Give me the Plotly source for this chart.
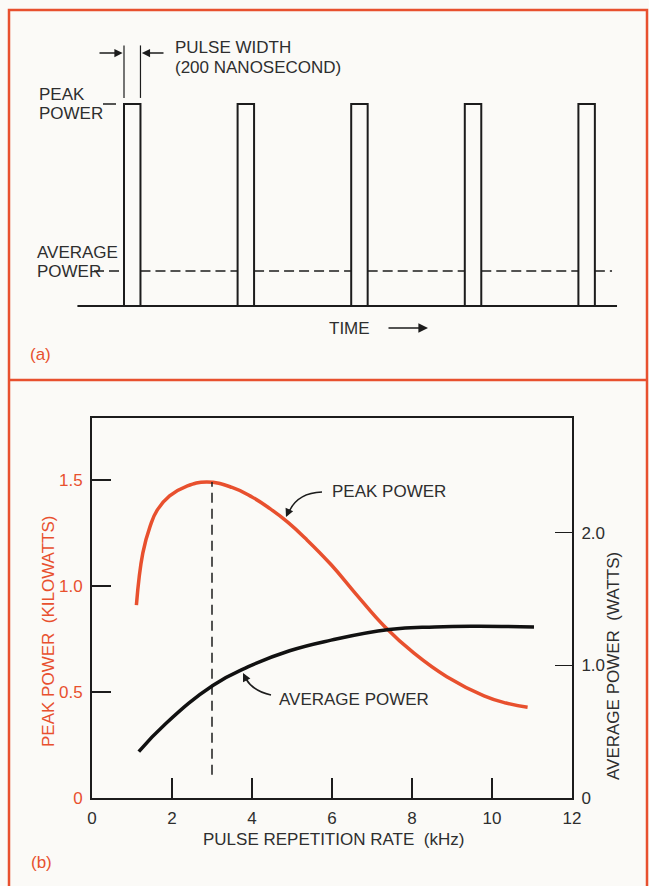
import plotly.graph_objects as go

# ---------------- data ----------------
# panel (a): schematic pulse train (time in pulse periods, power in units of peak)
pulse_times = [0, 1, 2, 3, 4]
pulse_width = 0.145
peak_level = 1.0
avg_level = 0.173
baseline_span = [-0.41, 4.34]
avg_line_span = [-0.264, 4.296]

# panel (b): peak power (kW, left axis) and average power (W, right axis) vs rate (kHz)
rate_peak = [1.11, 1.27, 1.45, 1.63, 1.94, 2.36, 2.87, 3.5, 4.0, 4.45, 4.9, 5.36, 5.98,
             6.6, 7.32, 8.05, 8.87, 9.8, 10.35, 10.89]
peak_kw = [0.91, 1.155, 1.28, 1.358, 1.425, 1.47, 1.49, 1.465, 1.42, 1.365, 1.3, 1.22,
           1.10, 0.962, 0.808, 0.683, 0.572, 0.482, 0.448, 0.428]
rate_avg = [1.17, 1.84, 3.03, 3.91, 4.94, 5.98, 7.43, 8.57, 9.6, 11.05]
avg_w = [0.35, 0.56, 0.85, 0.99, 1.11, 1.19, 1.27, 1.29, 1.295, 1.29]
optimum_rate = 3.0
optimum_span_kw = [0.11, 1.49]

x_ticks = [0, 2, 4, 6, 8, 10, 12]
left_ticks = [0, 0.5, 1.0, 1.5]
left_ticktext = ["0", "0.5", "1.0", "1.5"]
right_ticks = [0, 1, 2]
right_ticktext = ["0", "1.0", "2.0"]

# ---------------- layout helpers ----------------
W, H = 649, 886
def px(x): return x / W
def py(y): return 1 - y / H

RED = "#e8502e"
INK = "#1c1c1c"
TXT = "#2e2e2e"
BG = "#fbfaf7"
FONT = "Liberation Sans, Arial, sans-serif"
FS = 17

fig = go.Figure()

# ---- panel (a) traces ----
fig.add_trace(go.Scatter(x=list(baseline_span), y=[0, 0], mode="lines",
                         line=dict(color=INK, width=2), xaxis="x2", yaxis="y3"))
px_, py_ = [], []
for t in pulse_times:
    px_ += [t, t, t + pulse_width, t + pulse_width, None]
    py_ += [0, peak_level, peak_level, 0, None]
fig.add_trace(go.Scatter(x=px_, y=py_, mode="lines", line=dict(color=INK, width=2),
                         xaxis="x2", yaxis="y3"))
ax_, ay_ = [], []
edges = [avg_line_span[0]]
for t in pulse_times:
    edges += [t, t + pulse_width]
edges.append(avg_line_span[1])
for i in range(0, len(edges), 2):
    ax_ += [edges[i], edges[i + 1], None]
    ay_ += [avg_level, avg_level, None]
fig.add_trace(go.Scatter(x=ax_, y=ay_, mode="lines",
                         line=dict(color=INK, width=1.6, dash="10px,5px"),
                         xaxis="x2", yaxis="y3"))
# pulse width markers
fig.add_trace(go.Scatter(x=[pulse_times[0], pulse_times[0], None,
                            pulse_times[0] + pulse_width, pulse_times[0] + pulse_width],
                         y=[1.03, 1.29, None, 1.03, 1.29], mode="lines",
                         line=dict(color=INK, width=1.2), xaxis="x2", yaxis="y3"))

# ---- panel (b) traces ----
fig.add_trace(go.Scatter(x=rate_peak, y=peak_kw, mode="lines",
                         line=dict(color=RED, width=3.5, shape="spline", smoothing=1.3),
                         xaxis="x", yaxis="y"))
fig.add_trace(go.Scatter(x=rate_avg, y=avg_w, mode="lines",
                         line=dict(color="#111111", width=3.5, shape="spline", smoothing=1.3),
                         xaxis="x", yaxis="y2"))
fig.add_trace(go.Scatter(x=[optimum_rate, optimum_rate], y=optimum_span_kw, mode="lines",
                         line=dict(color=INK, width=1.5, dash="10px,6px"),
                         xaxis="x", yaxis="y"))

# ---- axes ----
axis_common = dict(showgrid=False, zeroline=False, fixedrange=True, automargin=False)
fig.update_layout(
    template="none",
    width=W, height=H, autosize=False, showlegend=False,
    margin=dict(l=0, r=0, t=0, b=0, pad=0, autoexpand=False),
    paper_bgcolor=BG, plot_bgcolor=BG,
    font=dict(family=FONT, size=FS, color=TXT),
    xaxis=dict(domain=[px(92), px(572)], range=[0, 12], anchor="y",
               showline=True, linecolor=INK, linewidth=2, mirror=True,
               ticks="inside", ticklen=20, tickwidth=1.5, tickcolor=INK,
               tickvals=x_ticks, ticktext=[str(v) for v in x_ticks], ticklabelstandoff=4,
               tickfont=dict(color=TXT, size=FS), **axis_common),
    yaxis=dict(domain=[py(798), py(418)], range=[0, 380 / 212], anchor="x",
               showline=True, linecolor=INK, linewidth=2,
               ticks="inside", ticklen=19, tickwidth=1.5, tickcolor=INK,
               tickvals=left_ticks, ticktext=left_ticktext, ticklabelstandoff=4,
               tickfont=dict(color=RED, size=FS), **axis_common),
    yaxis2=dict(overlaying="y", side="right", anchor="x", range=[0, 380 / 132.65],
                showline=True, linecolor=INK, linewidth=2,
                ticks="inside", ticklen=17, tickwidth=1.5, tickcolor=INK,
                tickvals=right_ticks, ticktext=right_ticktext, ticklabelstandoff=4,
                tickfont=dict(color=TXT, size=FS), **axis_common),
    xaxis2=dict(domain=[0, 1], range=[(0 - 124) / 113.6, (649 - 124) / 113.6],
                anchor="y3", visible=False, **axis_common),
    yaxis3=dict(domain=[py(380), py(10)], range=[(306 - 380) / 202, (306 - 10) / 202],
                anchor="x2", visible=False, **axis_common),
)

shapes = [
    # red frame
    dict(type="rect", xref="paper", yref="paper", x0=px(9), x1=px(647), y0=py(900), y1=py(10),
         line=dict(color=RED, width=2.5), layer="above"),
    dict(type="line", xref="paper", yref="paper", x0=px(9), x1=px(647), y0=py(380), y1=py(380),
         line=dict(color=RED, width=2.5)),
    # small leader tick in panel (a)
    dict(type="line", xref="paper", yref="y3", x0=px(103), x1=px(116), y0=peak_level, y1=peak_level,
         line=dict(color=INK, width=1.5)),
    # curved leaders in panel (b)
    dict(type="path", xref="paper", yref="paper",
         path=f"M {px(322)} {py(492)} Q {px(297)} {py(493)} {px(289)} {py(512)}",
         line=dict(color=INK, width=1.5)),
    dict(type="path", xref="paper", yref="paper",
         path=f"M {px(271)} {py(695)} Q {px(253)} {py(691)} {px(246)} {py(679)}",
         line=dict(color=INK, width=1.5)),
]
fig.update_layout(shapes=shapes)

def text(x, y, s, color=TXT, xanchor="left", size=FS, angle=0):
    return dict(xref="paper", yref="paper", x=px(x), y=py(y), text=s, showarrow=False,
                xanchor=xanchor, yanchor="middle", textangle=angle,
                font=dict(color=color, size=size, family=FONT))

annotations = [
    text(173, 48, "PULSE WIDTH"),
    text(173, 68, "(200 NANOSECOND)"),
    text(37, 95, "PEAK"),
    text(37, 114, "POWER"),
    text(35, 252, "AVERAGE"),
    text(35, 271, "POWER"),
    text(349, 328, "TIME", xanchor="center"),
    text(28, 355, "(a)", color=RED),
    text(330, 491, "PEAK POWER"),
    text(277, 699, "AVERAGE POWER"),
    text(333, 839, "PULSE REPETITION RATE  (kHz)", xanchor="center"),
    text(48, 632, "PEAK POWER  (KILOWATTS)", color=RED, xanchor="center", angle=-90),
    text(613, 666, "AVERAGE POWER  (WATTS)", xanchor="center", angle=-90),
    text(29, 862, "(b)", color=RED),
    # arrows
    dict(xref="x2", yref="y3", x=-0.012, y=1.2525, axref="x2", ayref="y3",
         ax=(98 - 124) / 113.6, ay=1.2525, text="", showarrow=True,
         arrowhead=2, arrowsize=1.1, arrowwidth=1.5, arrowcolor=INK),
    dict(xref="x2", yref="y3", x=pulse_width + 0.012, y=1.2525, axref="x2", ayref="y3",
         ax=(165 - 124) / 113.6, ay=1.2525, text="", showarrow=True,
         arrowhead=2, arrowsize=1.1, arrowwidth=1.5, arrowcolor=INK),
    dict(xref="paper", yref="paper", x=px(428), y=py(328), ax=-41, ay=0, text="",
         showarrow=True, arrowhead=2, arrowsize=1.2, arrowwidth=1.6, arrowcolor=INK),
    dict(xref="paper", yref="paper", x=px(286), y=py(517), ax=4, ay=-9, text="",
         showarrow=True, arrowhead=2, arrowsize=1.1, arrowwidth=1.5, arrowcolor=INK),
    dict(xref="paper", yref="paper", x=px(243), y=py(673), ax=4, ay=8, text="",
         showarrow=True, arrowhead=2, arrowsize=1.1, arrowwidth=1.5, arrowcolor=INK),
]
fig.update_layout(annotations=annotations)

fig.write_html(
    "out.html",
    config={"displayModeBar": False, "responsive": False, "staticPlot": True},
    default_width="649px", default_height="886px",
    post_script=("document.body.style.margin='0px';"
                 "document.body.style.overflow='hidden';"
                 "document.body.style.background='%s';" % BG),
)
